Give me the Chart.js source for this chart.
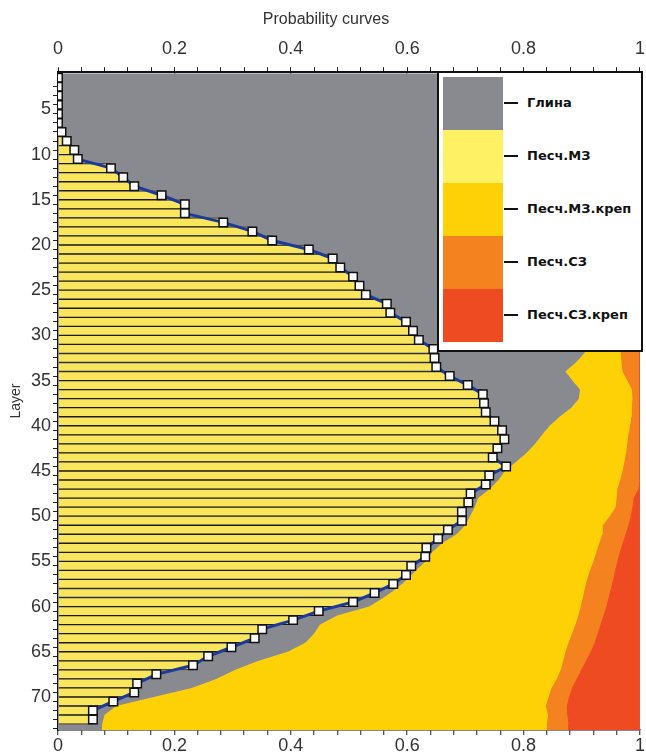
<!DOCTYPE html>
<html>
<head>
<meta charset="utf-8">
<script src="https://cdn.jsdelivr.net/npm/chart.js@4.4.1/dist/chart.umd.min.js"></script>
<style>
    html, body { margin: 0; padding: 0; background: #fff; }
    #wrap { position: relative; width: 646px; height: 753px; overflow: hidden; }
    #wrap canvas { position: absolute; left: 0; top: 0; }
    #legend {
        position: absolute; left: 437px; top: 71px; width: 202px; height: 277px;
        border: 2px solid #111; background: #fff;
        font: bold 13px "DejaVu Sans", sans-serif; color: #111;
    }
    .sw { position: absolute; left: 4px; width: 60px; height: 53px; }
    .tick { position: absolute; left: 65px; width: 14px; height: 2px; background: #111; }
    .lbl { position: absolute; left: 88px; line-height: 16px; white-space: nowrap; }
</style>
</head>
<body>
<div id="wrap">
    <canvas id="probChart" width="652" height="753"></canvas>
    <div id="legend"></div>
</div>
<script>
// Номера слоёв и длины столбцов (кривая вероятности)
var layers = [1, 2, 3, 4, 5, 6, 7, 8, 9, 10, 11, 12, 13, 14, 15, 16, 17, 18, 19, 20,
    21, 22, 23, 24, 25, 26, 27, 28, 29, 30, 31, 32, 33, 34, 35, 36, 37, 38, 39, 40,
    41, 42, 43, 44, 45, 46, 47, 48, 49, 50, 51, 52, 53, 54, 55, 56, 57, 58, 59, 60,
    61, 62, 63, 64, 65, 66, 67, 68, 69, 70, 71, 72];
var barValues = [0, 0, 0, 0, 0, 0, 0.006, 0.015, 0.028, 0.034,
    0.091, 0.112, 0.131, 0.178, 0.218, 0.218, 0.284, 0.334, 0.368, 0.431,
    0.472, 0.485, 0.507, 0.518, 0.529, 0.565, 0.571, 0.598, 0.610, 0.620,
    0.645, 0.647, 0.650, 0.673, 0.704, 0.730, 0.732, 0.735, 0.750, 0.763,
    0.767, 0.755, 0.747, 0.770, 0.741, 0.735, 0.709, 0.705, 0.694, 0.694,
    0.670, 0.653, 0.633, 0.631, 0.607, 0.598, 0.576, 0.544, 0.507, 0.448,
    0.404, 0.351, 0.338, 0.298, 0.258, 0.232, 0.169, 0.136, 0.131, 0.095,
    0.060, 0.060];

// Накопленные вероятности литотипов по глубине (фон)
var curveDepth = [1, 31.5, 32, 33, 34, 35, 36, 37, 38, 39, 40, 41, 42, 43, 44, 45, 46, 47, 48, 49,
    50, 51, 52, 53, 54, 55, 56, 57, 58, 59, 60, 61, 62, 63, 64, 65, 66, 67, 68, 69,
    70, 71, 72, 73, 74];
var clayEdge = [1.0, 0.905, 0.904, 0.890, 0.872, 0.884, 0.897, 0.895, 0.882, 0.862,
    0.845, 0.832, 0.820, 0.805, 0.787, 0.768, 0.757, 0.742, 0.722, 0.716,
    0.708, 0.700, 0.685, 0.660, 0.643, 0.632, 0.615, 0.600, 0.582, 0.560,
    0.535, 0.480, 0.450, 0.440, 0.425, 0.395, 0.345, 0.305, 0.272, 0.230,
    0.165, 0.100, 0.080, 0.076, 0.075];
var mzKrepEdge = [1.0, 0.967, 0.967, 0.968, 0.970, 0.978, 0.986, 0.987, 0.986, 0.985,
    0.983, 0.980, 0.978, 0.976, 0.973, 0.970, 0.966, 0.961, 0.960, 0.958,
    0.948, 0.936, 0.935, 0.930, 0.925, 0.920, 0.914, 0.909, 0.905, 0.902,
    0.898, 0.894, 0.889, 0.883, 0.877, 0.872, 0.868, 0.864, 0.857, 0.848,
    0.843, 0.838, 0.842, 0.840, 0.840];
var szEdge = [1.0, 1.0, 1.0, 1.0, 1.0, 1.0, 1.0, 1.0, 1.0, 1.0,
    1.0, 1.0, 1.0, 1.0, 1.0, 1.0, 1.0, 0.998, 0.990, 0.988,
    0.985, 0.981, 0.976, 0.971, 0.966, 0.962, 0.958, 0.955, 0.951, 0.947,
    0.943, 0.938, 0.933, 0.928, 0.923, 0.916, 0.908, 0.900, 0.892, 0.884,
    0.879, 0.875, 0.876, 0.878, 0.878];

var xTickLabels = ['0', '0.2', '0.4', '0.6', '0.8', '1'];

var legendNames = ['Глина', 'Песч.МЗ', 'Песч.МЗ.креп', 'Песч.СЗ', 'Песч.СЗ.креп'];
var legendColors = ['#898a8f', '#fff064', '#fdd106', '#f4821f', '#ee4b22'];

var tickFont = { family: "'Liberation Sans', Arial, sans-serif", size: 18 };
var textColor = '#333';

// Точки: слой занимает интервал [k, k+1], метка в середине
function layerPoints(values) {
    return layers.map(function (l, i) { return { x: values[i], y: l + 0.5 }; });
}
function curvePoints(values) {
    return curveDepth.map(function (d, i) { return { x: values[i], y: d }; });
}

function xLabel(v) {
    var k = Math.round(v * 100);
    return k % 20 === 0 ? xTickLabels[k / 20] : '';
}

var ctx = document.getElementById('probChart').getContext('2d');
new Chart(ctx, {
    type: 'bar',
    data: {
        datasets: [
            {
                type: 'line', indexAxis: 'y', order: 1,
                data: layerPoints(barValues),
                borderColor: '#1d3a9a', borderWidth: 3, fill: false,
                pointStyle: 'rect', pointRadius: 6, pointBorderWidth: 1.5,
                pointBackgroundColor: '#fff', pointBorderColor: '#111'
            },
            {
                type: 'bar', indexAxis: 'y', order: 2,
                data: layerPoints(barValues),
                backgroundColor: '#f9e65c', borderColor: '#1a1a1a', borderWidth: 1,
                barPercentage: 1, categoryPercentage: 1
            },
            {
                type: 'line', indexAxis: 'y', order: 10,
                data: curvePoints(clayEdge), fill: 'origin',
                backgroundColor: legendColors[0], borderColor: legendColors[0], borderWidth: 1, pointRadius: 0
            },
            {
                type: 'line', indexAxis: 'y', order: 9,
                data: curvePoints(mzKrepEdge), fill: '-1',
                backgroundColor: legendColors[2], borderColor: legendColors[2], borderWidth: 1, pointRadius: 0
            },
            {
                type: 'line', indexAxis: 'y', order: 8,
                data: curvePoints(szEdge), fill: '-1',
                backgroundColor: legendColors[3], borderColor: legendColors[3], borderWidth: 1, pointRadius: 0
            },
            {
                type: 'line', indexAxis: 'y', order: 7,
                data: curvePoints(szEdge), fill: { value: 1 },
                backgroundColor: legendColors[4], borderColor: legendColors[4], borderWidth: 1, pointRadius: 0
            }
        ]
    },
    options: {
        indexAxis: 'y',
        responsive: false,
        animation: false,
        events: [],
        layout: { padding: 0 },
        plugins: {
            legend: { display: false },
            tooltip: { enabled: false },
            title: {
                display: true, text: 'Probability curves', color: textColor,
                font: { family: tickFont.family, size: 16, weight: 'normal' },
                padding: { top: 10, bottom: 0 }
            }
        },
        scales: {
            x: {
                type: 'linear', position: 'bottom', min: 0, max: 1, z: 1,
                ticks: { stepSize: 0.04, maxTicksLimit: 30, autoSkip: false, maxRotation: 0,
                    padding: 0, font: tickFont, color: textColor, callback: xLabel },
                grid: {
                    lineWidth: 1.5, tickLength: 5, tickColor: '#222', tickWidth: 1,
                    color: function (c) {
                        if (!c.tick) return 'rgba(0,0,0,0)';
                        var k = Math.round(c.tick.value * 100);
                        return (k % 20 === 0 && k > 0 && k < 100) ? '#5a5a5a' : 'rgba(0,0,0,0)';
                    }
                },
                border: { color: '#111', width: 1.5 },
                afterFit: function (s) { s.height = 23; }
            },
            xTop: {
                type: 'linear', position: 'top', min: 0, max: 1,
                ticks: { stepSize: 0.04, maxTicksLimit: 30, autoSkip: false, maxRotation: 0,
                    padding: 7, font: tickFont, color: textColor, callback: xLabel },
                grid: { drawOnChartArea: false, tickLength: 5, tickColor: '#222', tickWidth: 1 },
                border: { color: '#111', width: 2 },
                afterFit: function (s) { s.height = 43; }
            },
            y: {
                type: 'linear', reverse: true, min: 1.39, max: 73.15,
                ticks: {
                    stepSize: 1, maxTicksLimit: 100, autoSkip: false, includeBounds: false, padding: 2,
                    font: tickFont, color: textColor,
                    callback: function (v) { return (Number.isInteger(v) && v % 5 === 0) ? String(v) : ''; }
                },
                grid: {
                    drawOnChartArea: false, tickLength: 5, tickWidth: 1,
                    tickColor: function (c) {
                        return (c.tick && Number.isInteger(c.tick.value)) ? '#222' : 'rgba(0,0,0,0)';
                    }
                },
                border: { color: '#111', width: 1.5 },
                title: { display: true, text: 'Layer', color: textColor,
                    font: { family: tickFont.family, size: 14 }, padding: { top: 8, bottom: 0 } },
                afterFit: function (s) { s.width = 58; }
            }
        }
    }
});

// Легенда (поверх области графика)
var legend = document.getElementById('legend');
legendNames.forEach(function (name, i) {
    var top = 4 + i * 53;
    legend.insertAdjacentHTML('beforeend',
        '<div class="sw" style="top:' + top + 'px;background:' + legendColors[i] + '"></div>' +
        '<div class="tick" style="top:' + (top + 25) + 'px"></div>' +
        '<div class="lbl" style="top:' + (top + 18) + 'px">' + name + '</div>');
});
</script>
</body>
</html>
